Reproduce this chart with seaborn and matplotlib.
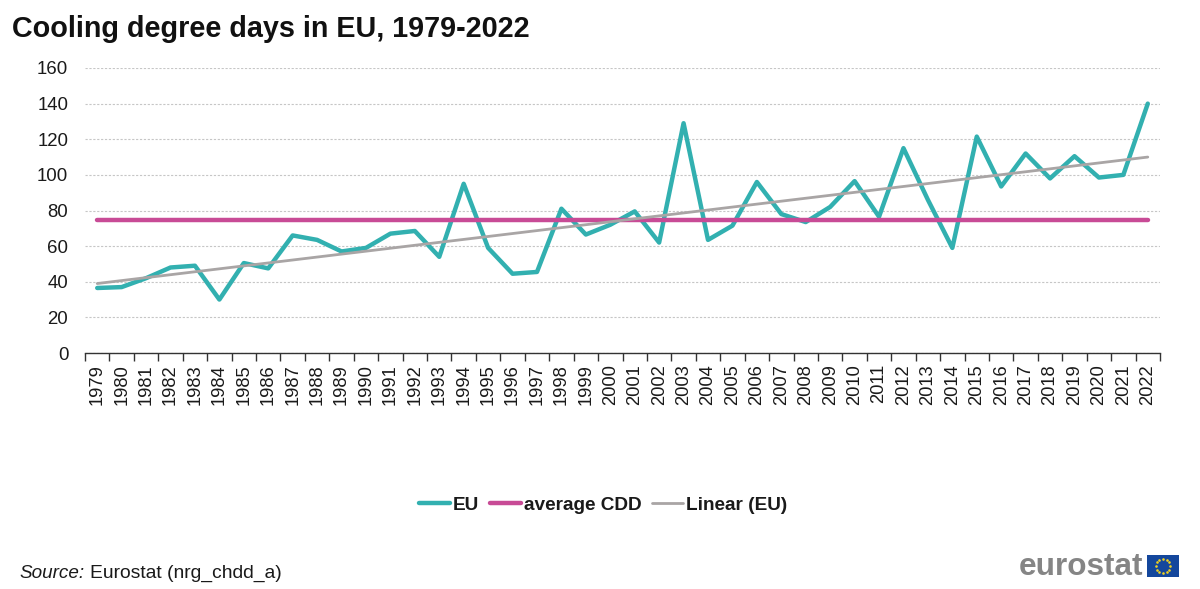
import numpy as np
import pandas as pd
import matplotlib
matplotlib.use("Agg")
import matplotlib.pyplot as plt
import seaborn as sns

years = list(range(1979, 2023))
eu_cdd = [36.5, 37, 42, 48, 49, 30, 50.5, 47.5, 66, 63.5, 57, 59, 67, 68.5, 54,
          95, 59, 44.5, 45.5, 81, 66.5, 72, 79.5, 62, 129, 63.5, 71.5, 96, 78,
          73.5, 82, 96.5, 76.5, 115, 86, 59, 121.5, 93.5, 112, 98, 110.5, 98.5,
          100, 140]
end_years = [1979, 2022]
average_cdd = [74.8, 74.8]
linear_eu = [39, 110]
y_ticks = [0, 20, 40, 60, 80, 100, 120, 140, 160]

teal = "#32b0b0"
magenta = "#c84b96"
grey = "#a9a5a5"
text_col = "#1a1a1a"

sns.set_theme(style="white")
plt.rcParams["font.family"] = ["Liberation Sans", "DejaVu Sans"]

df = pd.DataFrame({"year": years, "cdd": eu_cdd})
ends = pd.DataFrame({"year": end_years, "avg": average_cdd, "lin": linear_eu})

fig = plt.figure(figsize=(12, 5.89), dpi=100)
ax = fig.add_axes([85 / 1200, 1 - 353 / 589, 1075 / 1200, 285 / 589])

sns.lineplot(data=df, x="year", y="cdd", color=teal, lw=3.2, ax=ax, label="EU", zorder=3)
sns.lineplot(data=ends, x="year", y="avg", color=magenta, lw=3.2, ax=ax, label="average CDD", zorder=4)
sns.lineplot(data=ends, x="year", y="lin", color=grey, lw=2, ax=ax, label="Linear (EU)", zorder=5)

ax.set_xlim(1978.5, 2022.5)
ax.set_ylim(0, 160)
ax.set_xlabel("")
ax.set_ylabel("")

ax.set_yticks(y_ticks)
ax.tick_params(axis="y", length=0, labelsize=13.4, labelcolor=text_col, pad=12)
ax.yaxis.grid(True, color="#c6c6c6", lw=0.8, ls=(0, (2, 1.5)))
ax.set_axisbelow(True)

# year labels in the middle, tick marks on the category borders
ax.set_xticks(years)
ax.set_xticklabels(years, rotation=90)
ax.tick_params(axis="x", which="major", length=0, labelsize=13.2, labelcolor=text_col, pad=8)
ax.set_xticks(np.array(years + [2023]) - 0.5, minor=True)
ax.tick_params(axis="x", which="minor", length=6, width=1, color="#333333", bottom=True)

sns.despine(ax=ax, left=True, top=True, right=True)
ax.spines["bottom"].set_color("#333333")
ax.spines["bottom"].set_linewidth(1)

leg = ax.legend(loc="center", bbox_to_anchor=(603 / 1200, 1 - 505 / 589),
                bbox_transform=fig.transFigure, ncol=3, frameon=False,
                handlelength=1.65, handletextpad=0.15, columnspacing=0.55,
                prop={"size": 13.7, "weight": "bold"})
for t in leg.get_texts():
    t.set_color(text_col)

fig.text(12 / 1200, 1 - 29 / 589, "Cooling degree days in EU, 1979-2022", fontsize=20.7,
         fontweight="bold", color="#111111", va="center", ha="left")

fig.text(19 / 1200, 1 - 578 / 589, "Source:", fontsize=13.6, style="italic",
         color=text_col, va="baseline", ha="left")
fig.text(90 / 1200, 1 - 578 / 589, "Eurostat (nrg_chdd_a)", fontsize=13.9,
         color=text_col, va="baseline", ha="left")

# logo: word plus small flag
fig.text(1143 / 1200, 1 - 567 / 589, "eurostat", fontsize=22.7, fontweight="bold",
         color="#858585", va="center", ha="right")
flag = fig.add_axes([1147 / 1200, 1 - 577 / 589, 32 / 1200, 22 / 589])
flag.set_facecolor("#14479c")
flag.set_xticks([])
flag.set_yticks([])
flag.set_xlim(-1.45, 1.45)
flag.set_ylim(-1, 1)
for s in flag.spines.values():
    s.set_visible(False)
angles = np.deg2rad(np.arange(0, 360, 30))
flag.scatter(0.65 * np.cos(angles), 0.65 * np.sin(angles), s=3.5, color="#f2d21f", linewidths=0)

fig.savefig("out.png", dpi=100)
